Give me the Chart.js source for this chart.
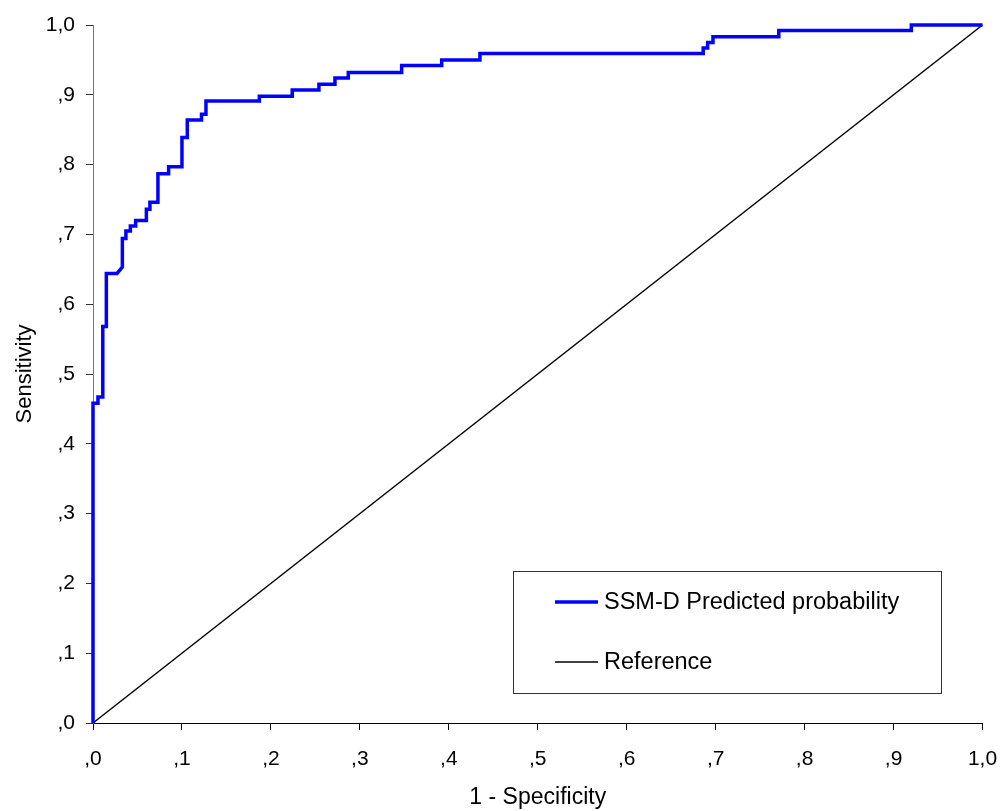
<!DOCTYPE html>
<html>
<head>
<meta charset="utf-8">
<script src="https://cdn.jsdelivr.net/npm/chart.js@4/dist/chart.umd.min.js"></script>
<style>
  body { margin: 0; background: #fff; }
  #wrap { width: 1003px; height: 811px; }
</style>
</head>
<body>
<div id="wrap"><canvas id="graficoRoc" width="1003" height="811"></canvas></div>
<script>
// ============ Datos de la curva ROC ============
var fpr = [0, 0, 0.0056, 0.0056, 0.011, 0.011, 0.015, 0.015, 0.027, 0.033, 0.033, 0.037, 0.037,
           0.042, 0.042, 0.048, 0.048, 0.060, 0.060, 0.064, 0.064, 0.073, 0.073, 0.085, 0.085,
           0.100, 0.100, 0.106, 0.106, 0.122, 0.122, 0.127, 0.127, 0.187, 0.187, 0.224, 0.224,
           0.254, 0.254, 0.272, 0.272, 0.287, 0.287, 0.347, 0.347, 0.392, 0.392, 0.435, 0.435,
           0.686, 0.686, 0.691, 0.691, 0.697, 0.697, 0.771, 0.771, 0.920, 0.920, 1];
var tpr = [0, 0.458, 0.458, 0.467, 0.467, 0.568, 0.568, 0.644, 0.644, 0.653, 0.694, 0.694, 0.705,
           0.705, 0.712, 0.712, 0.720, 0.720, 0.736, 0.736, 0.746, 0.746, 0.787, 0.787, 0.797,
           0.797, 0.839, 0.839, 0.864, 0.864, 0.872, 0.872, 0.891, 0.891, 0.898, 0.898, 0.907,
           0.907, 0.915, 0.915, 0.924, 0.924, 0.932, 0.932, 0.942, 0.942, 0.950, 0.950, 0.959,
           0.959, 0.967, 0.967, 0.975, 0.975, 0.983, 0.983, 0.992, 0.992, 1.0, 1.0];

var refX = [0, 1];
var refY = [0, 1];

var serieNombres = ['SSM-D Predicted probability', 'Reference'];
var tituloX = '1 - Specificity';
var tituloY = 'Sensitivity';

var fuente = '"Liberation Sans", Arial, sans-serif';

// formato tipo SPSS: ",1" ... "1,0"
function formatoTick(v) {
    return v.toFixed(1).replace('.', ',').replace(/^0/, '');
}

function aPuntos(xs, ys) {
    return xs.map(function (x, i) { return { x: x, y: ys[i] }; });
}

// ============ Leyenda dibujada dentro del area del grafico ============
var leyendaPlugin = {
    id: 'leyendaRoc',
    afterDraw: function (chart) {
        var ctx = chart.ctx;
        var area = chart.chartArea;
        var w = 428, h = 122;
        var left = area.right - 41.5 - w;
        var top = area.bottom - 30 - h;

        ctx.save();
        ctx.fillStyle = '#fff';
        ctx.fillRect(left, top, w, h);
        ctx.strokeStyle = '#333';
        ctx.lineWidth = 1;
        ctx.strokeRect(left + 0.5, top + 0.5, w, h);

        ctx.font = '23.5px ' + fuente;
        ctx.textBaseline = 'middle';
        ctx.textAlign = 'left';
        chart.data.datasets.forEach(function (ds, i) {
            var y = top + 31 + i * 60;
            ctx.strokeStyle = ds.borderColor;
            ctx.lineWidth = ds.borderWidth;
            ctx.beginPath();
            ctx.moveTo(left + 42, y);
            ctx.lineTo(left + 85, y);
            ctx.stroke();
            ctx.fillStyle = '#000';
            ctx.fillText(ds.label, left + 91, y + 1);
        });
        ctx.restore();
    }
};

var chartRoc = new Chart(document.getElementById('graficoRoc'), {
    type: 'scatter',
    data: {
        datasets: [
            { label: serieNombres[0], data: aPuntos(fpr, tpr), showLine: true, borderColor: '#0000ff',
              borderWidth: 3.5, pointRadius: 0, clip: false },
            { label: serieNombres[1], data: aPuntos(refX, refY), showLine: true, borderColor: '#000',
              borderWidth: 1.5, pointRadius: 0, clip: false }
        ]
    },
    options: {
        responsive: false,
        animation: false,
        layout: { padding: { left: 0, top: 25, right: 20.5, bottom: 0 } },
        plugins: {
            legend: { display: false },
            tooltip: { enabled: false }
        },
        scales: {
            x: {
                type: 'linear', min: 0, max: 1,
                ticks: { stepSize: 0.1, callback: formatoTick, color: '#000', padding: 17,
                         maxRotation: 0, font: { family: fuente, size: 21 } },
                grid: { drawOnChartArea: false, tickLength: 7, color: '#000' },
                border: { color: '#000', width: 1 },
                title: { display: true, text: tituloX, color: '#000', padding: 0,
                         font: { family: fuente, size: 23 } },
                afterFit: function (scale) {
                    scale.height = 88;
                    scale.paddingLeft = 0;
                    scale.paddingRight = 0;
                }
            },
            y: {
                type: 'linear', min: 0, max: 1,
                ticks: { stepSize: 0.1, callback: formatoTick, color: '#000', padding: 11,
                         font: { family: fuente, size: 21 } },
                grid: { drawOnChartArea: false, tickLength: 7, color: '#333' },
                border: { color: '#777', width: 1 },
                title: { display: true, text: tituloY, color: '#000', padding: { top: 12, bottom: 0 },
                         font: { family: fuente, size: 22 } },
                afterFit: function (scale) {
                    scale.width = 93;
                    scale.paddingTop = 0;
                    scale.paddingBottom = 0;
                }
            }
        }
    },
    plugins: [leyendaPlugin]
});
</script>
</body>
</html>
